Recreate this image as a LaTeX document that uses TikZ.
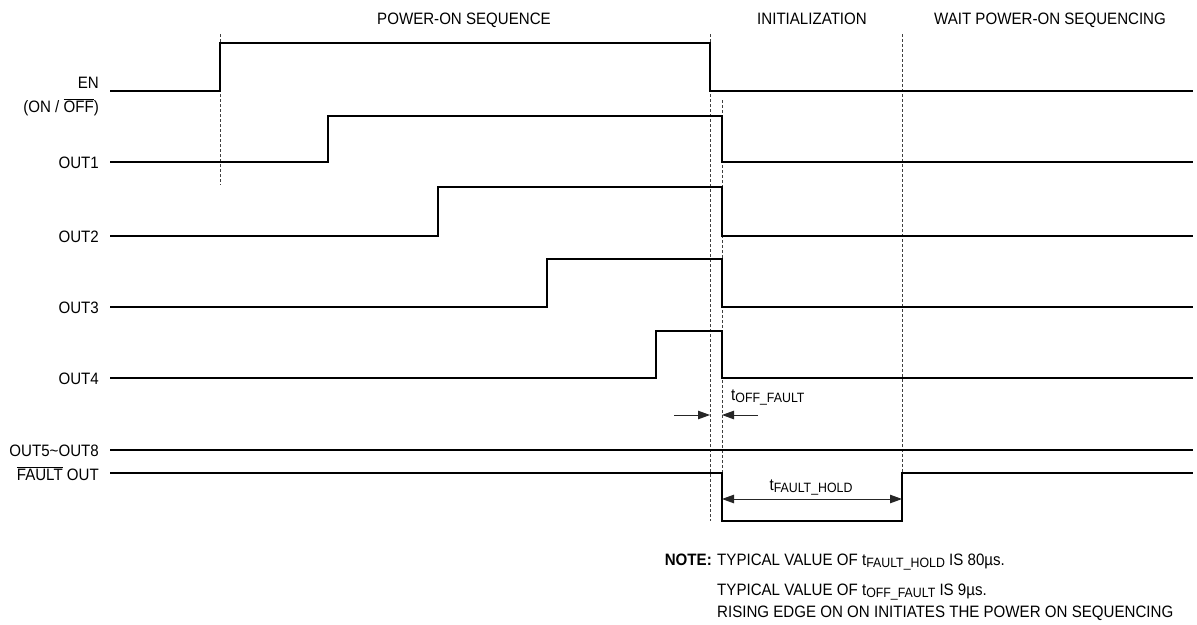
\documentclass[tikz,border=0pt]{standalone}
\usepackage{fontspec}
\setmainfont{Liberation Sans}[FakeStretch=0.915]
\usetikzlibrary{arrows.meta}
\newcommand\sbt[1]{\raisebox{-2pt}{\fontsize{13.5}{14}\selectfont #1}}
\begin{document}
\begin{tikzpicture}[x=1pt,y=-1pt,
  sig/.style={line width=1.2pt, line join=miter},
  guide/.style={line width=0.8pt, dash pattern=on 3pt off 2pt, black!75},
  dim/.style={line width=0.9pt, black!85},
  tip/.style={{Triangle[length=12pt,width=8.5pt]}},
  txt/.style={inner sep=0pt, font=\fontsize{16.5}{19}\selectfont},
  lbl/.style={txt, anchor=base east}]
\useasboundingbox (0,0) rectangle (1197,624);

% phase titles
\node[txt, anchor=base] (t1) at (464,24) {POWER-ON SEQUENCE};
\node[txt, anchor=base] (t2) at (812,24) {INITIALIZATION};
\node[txt, anchor=base] (t3) at (1050,24) {WAIT POWER-ON SEQUENCING};

% guide lines
\draw[guide] (220,34) -- (220,185);
\draw[guide] (710,34) -- (710,521);
\draw[guide] (722,100) -- (722,521);
\draw[guide] (902,34) -- (902,473);

% signal labels
\node[lbl] (en)  at (99,88) {EN};
\node[lbl] (enb) at (99,112) {(ON / $\overline{\mbox{OFF}}$)};
\node[lbl] (o1)  at (99,168) {OUT1};
\node[lbl] (o2)  at (99,242) {OUT2};
\node[lbl] (o3)  at (99,313) {OUT3};
\node[lbl] (o4)  at (99,384) {OUT4};
\node[lbl] (o5)  at (99,456) {OUT5\textasciitilde OUT8};
\node[lbl] (flt) at (99,480) {$\overline{\mbox{FAULT}}$ OUT};

% waveforms
\draw[sig] (110,91) -- (220,91) -- (220,43) -- (710,43) -- (710,91) -- (1193,91);
\draw[sig] (110,162) -- (328,162) -- (328,116) -- (722,116) -- (722,162) -- (1193,162);
\draw[sig] (110,236) -- (438,236) -- (438,187) -- (722,187) -- (722,236) -- (1193,236);
\draw[sig] (110,307) -- (547,307) -- (547,259) -- (722,259) -- (722,307) -- (1193,307);
\draw[sig] (110,378) -- (656,378) -- (656,331) -- (722,331) -- (722,378) -- (1193,378);
\draw[sig] (110,450) -- (1193,450);
\draw[sig] (110,473) -- (722,473) -- (722,521) -- (902,521) -- (902,473) -- (1193,473);

% tOFF_FAULT
\coordinate (a1s) at (674,415);
\coordinate (a1e) at (710,415);
\coordinate (a2s) at (758,415);
\coordinate (a2e) at (722,415);
\draw[dim, -{Triangle[length=12pt,width=8.5pt]}] (a1s) -- (a1e);
\draw[dim, -{Triangle[length=12pt,width=8.5pt]}] (a2s) -- (a2e);
\node[txt, anchor=base west] (toff) at (731,400) {t\sbt{OFF\_FAULT}};

% tFAULT_HOLD
\coordinate (h1) at (722,499);
\coordinate (h2) at (902,499);
\draw[dim, {Triangle[length=12pt,width=8.5pt]}-{Triangle[length=12pt,width=8.5pt]}] (h1) -- (h2);
\node[txt, anchor=base] (thold) at (811,490) {t\sbt{FAULT\_HOLD}};

% notes
\node[txt, anchor=base east, font=\fontsize{16.5}{19}\selectfont\bfseries] (note) at (712,565) {NOTE:};
\node[txt, anchor=base west] (n1) at (717,565) {TYPICAL VALUE OF t\sbt{FAULT\_HOLD} IS 80µs.};
\node[txt, anchor=base west] (n2) at (717,595) {TYPICAL VALUE OF t\sbt{OFF\_FAULT} IS 9µs.};
\node[txt, anchor=base west] (n3) at (717,617) {RISING EDGE ON ON INITIATES THE POWER ON SEQUENCING};
\end{tikzpicture}
\end{document}
